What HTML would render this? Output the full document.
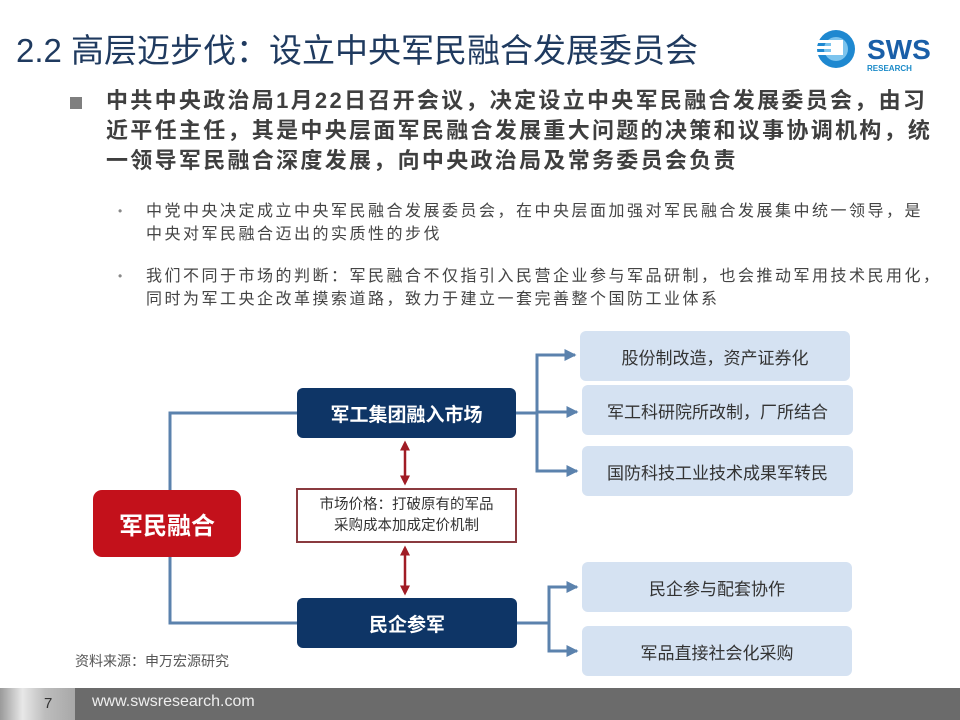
<!DOCTYPE html>
<html><head><meta charset="utf-8">
<style>
*{margin:0;padding:0;box-sizing:border-box}
body{width:960px;height:720px;background:#fff;position:relative;overflow:hidden;font-family:"Liberation Sans","Noto Sans CJK SC",sans-serif}
.a{position:absolute;white-space:nowrap}
.title{left:16px;top:24px;font-size:33px;color:#1f3a5f}
.b1{left:106px;top:86px;font-size:22px;font-weight:bold;color:#3f3f3f;line-height:30px;letter-spacing:2.3px}
.sq{left:70px;top:97px;width:12px;height:12px;background:#7f7f7f}
.s{left:146px;font-size:16px;color:#444;line-height:23px;letter-spacing:2.5px}
.dot{left:118px;font-size:12px;color:#888}
.box{position:absolute;display:flex;align-items:center;justify-content:center;text-align:center}
.navy{background:#0e3566;color:#fff;font-weight:bold;font-size:19px;border-radius:6px}
.lb{background:#d5e2f2;color:#333;font-size:17px;border-radius:6px}
</style></head><body>
<div class="a title">2.2 高层迈步伐：设立中央军民融合发展委员会</div>
<svg class="a" style="left:815px;top:28px" width="140" height="50">
<circle cx="21" cy="21" r="19" fill="#1e88d0"/>
<circle cx="21" cy="21" r="12" fill="#7cc4ee"/>
<rect x="2" y="12" width="18" height="3" fill="#fff"/><rect x="2" y="18" width="18" height="3" fill="#fff"/><rect x="2" y="24" width="18" height="3" fill="#fff"/>
<rect x="16" y="12" width="12" height="15" fill="#fff"/>
<text x="52" y="31" font-family="Liberation Sans" font-weight="bold" font-size="28" fill="#1a5fa8">SWS</text>
<text x="52" y="43" font-family="Liberation Sans" font-weight="bold" font-size="8" fill="#1a8ac8">RESEARCH</text>
</svg>
<div class="a sq"></div>
<div class="a b1">中共中央政治局1月22日召开会议，决定设立中央军民融合发展委员会，由习<br>近平任主任，其是中央层面军民融合发展重大问题的决策和议事协调机构，统<br>一领导军民融合深度发展，向中央政治局及常务委员会负责</div>
<div class="a dot" style="top:204px">•</div>
<div class="a s" style="top:200px">中党中央决定成立中央军民融合发展委员会，在中央层面加强对军民融合发展集中统一领导，是<br>中央对军民融合迈出的实质性的步伐</div>
<div class="a dot" style="top:269px">•</div>
<div class="a s" style="top:265px">我们不同于市场的判断：军民融合不仅指引入民营企业参与军品研制，也会推动军用技术民用化，<br>同时为军工央企改革摸索道路，致力于建立一套完善整个国防工业体系</div>

<svg class="a" style="left:0;top:0" width="960" height="720">
<defs><marker id="ab" markerWidth="4" markerHeight="4" refX="3.5" refY="2" orient="auto"><path d="M0,0L4,2L0,4z" fill="#5b82ad"/></marker>
<marker id="ar" markerWidth="4" markerHeight="4" refX="3" refY="2" orient="auto-start-reverse"><path d="M0,0L4,2L0,4z" fill="#a01c25"/></marker></defs>
<g stroke="#5b82ad" stroke-width="3" fill="none">
<polyline points="297,413 170,413 170,490"/>
<polyline points="297,623 170,623 170,557"/>
<line x1="516" y1="413" x2="537" y2="413"/>
<polyline points="575,355 537,355 537,471 577,471" marker-end="url(#ab)"/>
<line x1="537" y1="355" x2="575" y2="355" marker-end="url(#ab)"/>
<line x1="537" y1="412" x2="577" y2="412" marker-end="url(#ab)"/>
<line x1="517" y1="623" x2="549" y2="623"/>
<polyline points="577,587 549,587 549,651 577,651" marker-end="url(#ab)"/>
<line x1="549" y1="587" x2="577" y2="587" marker-end="url(#ab)"/>
</g>
<g stroke="#a01c25" stroke-width="2.5">
<line x1="405" y1="443" x2="405" y2="483" marker-start="url(#ar)" marker-end="url(#ar)"/>
<line x1="405" y1="548" x2="405" y2="593" marker-start="url(#ar)" marker-end="url(#ar)"/>
</g>
</svg>

<div class="box" style="left:93px;top:490px;width:148px;height:67px;background:#c3111b;color:#fff;font-size:24px;font-weight:bold;border-radius:9px">军民融合</div>
<div class="box navy" style="left:297px;top:388px;width:219px;height:50px">军工集团融入市场</div>
<div class="box" style="left:296px;top:488px;width:221px;height:55px;border:2px solid #8a3a3f;font-size:14.5px;color:#333;line-height:21px">市场价格：打破原有的军品<br>采购成本加成定价机制</div>
<div class="box navy" style="left:297px;top:598px;width:220px;height:50px">民企参军</div>
<div class="box lb" style="left:580px;top:331px;width:270px;height:50px">股份制改造，资产证券化</div>
<div class="box lb" style="left:582px;top:385px;width:271px;height:50px">军工科研院所改制，厂所结合</div>
<div class="box lb" style="left:582px;top:446px;width:271px;height:50px">国防科技工业技术成果军转民</div>
<div class="box lb" style="left:582px;top:562px;width:270px;height:50px">民企参与配套协作</div>
<div class="box lb" style="left:582px;top:626px;width:270px;height:50px">军品直接社会化采购</div>
<div class="a" style="left:75px;top:651px;font-size:14px;color:#555">资料来源：申万宏源研究</div>

<div class="a" style="left:0;top:688px;width:960px;height:32px;background:#6b6b6b"></div>
<div class="a" style="left:0;top:688px;width:75px;height:32px;background:linear-gradient(90deg,#9a9a9a,#e8e8e8 30%,#bdbdbd 60%,#a8a8a8)"></div>
<div class="a" style="left:44px;top:695px;font-size:15px;color:#333">7</div>
<div class="a" style="left:92px;top:693px;font-size:16px;color:#eee">www.swsresearch.com</div>
</body></html>
